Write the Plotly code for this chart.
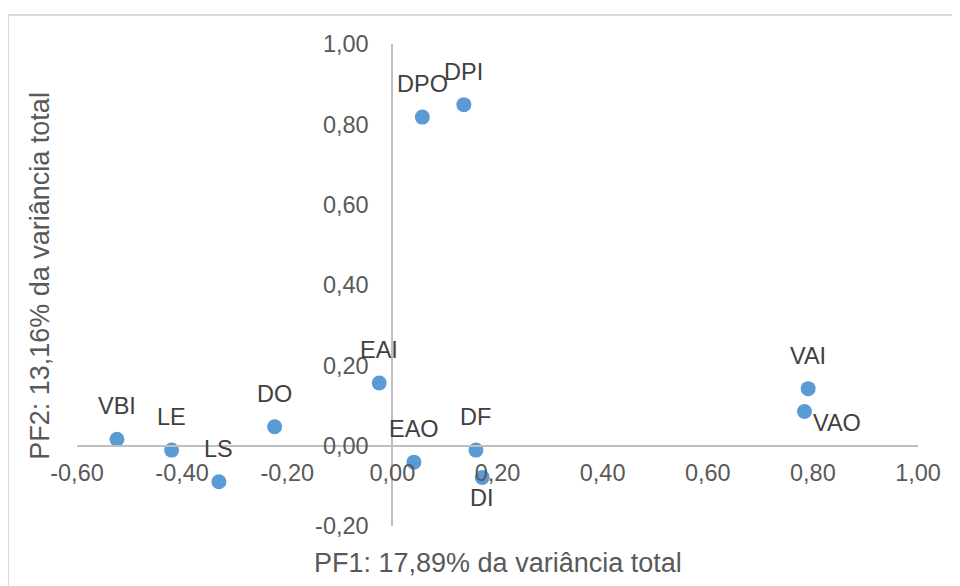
import plotly.graph_objects as go

# Data
labels = ["VBI", "LE", "LS", "DO", "EAI", "EAO", "DPO", "DPI", "DF", "DI", "VAI", "VAO"]
pf1 = [-0.524, -0.420, -0.330, -0.224, -0.025, 0.041, 0.057, 0.136, 0.159, 0.171, 0.791, 0.784]
pf2 = [0.016, -0.011, -0.090, 0.047, 0.156, -0.041, 0.818, 0.849, -0.011, -0.079, 0.142, 0.085]

x_ticks = [-0.6, -0.4, -0.2, 0.0, 0.2, 0.4, 0.6, 0.8, 1.0]
y_ticks = [-0.2, 0.0, 0.2, 0.4, 0.6, 0.8, 1.0]

x_title = "PF1: 17,89% da variância total"
y_title = "PF2: 13,16% da variância total"

def fmt(v):
    return f"{v:.2f}".replace(".", ",")

x_range = [-0.6, 1.0]
y_range = [-0.2, 1.0]

FONT = "Liberation Sans, Arial, sans-serif"
LABEL_FONT = dict(family=FONT, size=23.5, color="#404040")

# label placement styles (anchor, x shift, y shift) by label
default_place = ("center", "bottom", 0, 18)
special_place = {"DI": ("center", "top", 0, -6), "VAO": ("left", "top", 7, 4)}

fig = go.Figure()
fig.add_trace(go.Scatter(
    x=pf1, y=pf2, mode="markers",
    marker=dict(size=15, color="#5B9BD5"),
    hoverinfo="skip", showlegend=False, cliponaxis=False,
))

label_annotations = []
for lab, xv, yv in zip(labels, pf1, pf2):
    xa, ya, xs, ys = special_place.get(lab, default_place)
    label_annotations.append(dict(
        text=lab, x=xv, y=yv, xref="x", yref="y", showarrow=False,
        xanchor=xa, yanchor=ya, xshift=xs, yshift=ys, font=LABEL_FONT,
    ))

fig.update_layout(
    width=960, height=586,
    margin=dict(l=69, r=50, t=36, b=68),
    paper_bgcolor="white", plot_bgcolor="white",
    font=dict(family=FONT, color="#595959"),
    xaxis=dict(
        range=x_range, tickvals=x_ticks, ticktext=[fmt(v) for v in x_ticks],
        showgrid=False, zeroline=False, showline=True, linecolor="#BFBFBF", linewidth=2,
        anchor="free", position=(0 - y_range[0]) / (y_range[1] - y_range[0]),
        ticks="", tickfont=dict(size=23.5, color="#595959"), ticklabelstandoff=6,
    ),
    yaxis=dict(
        range=y_range, tickvals=y_ticks, ticktext=[fmt(v) for v in y_ticks],
        showgrid=False, zeroline=False, showline=True, linecolor="#BFBFBF", linewidth=2,
        anchor="free", position=(0 - x_range[0]) / (x_range[1] - x_range[0]),
        ticks="", tickfont=dict(size=23.5, color="#595959"), ticklabelstandoff=18,
    ),
    annotations=label_annotations + [
        dict(text=x_title, xref="paper", yref="paper", x=0.5, y=-0.0768,
             xanchor="center", yanchor="middle", showarrow=False,
             font=dict(size=27, color="#595959")),
        dict(text=y_title, xref="paper", yref="paper", x=-0.044, y=0.519,
             xanchor="center", yanchor="middle", showarrow=False, textangle=-90,
             font=dict(size=27, color="#595959")),
    ],
    shapes=[
        dict(type="rect", xref="paper", yref="paper",
             x0=(8 - 77) / 841, x1=1.2, y0=-0.3, y1=(526 - 15) / 482,
             line=dict(color="#D9D9D9", width=2), layer="below"),
    ],
)

fig.write_html("out.html")
